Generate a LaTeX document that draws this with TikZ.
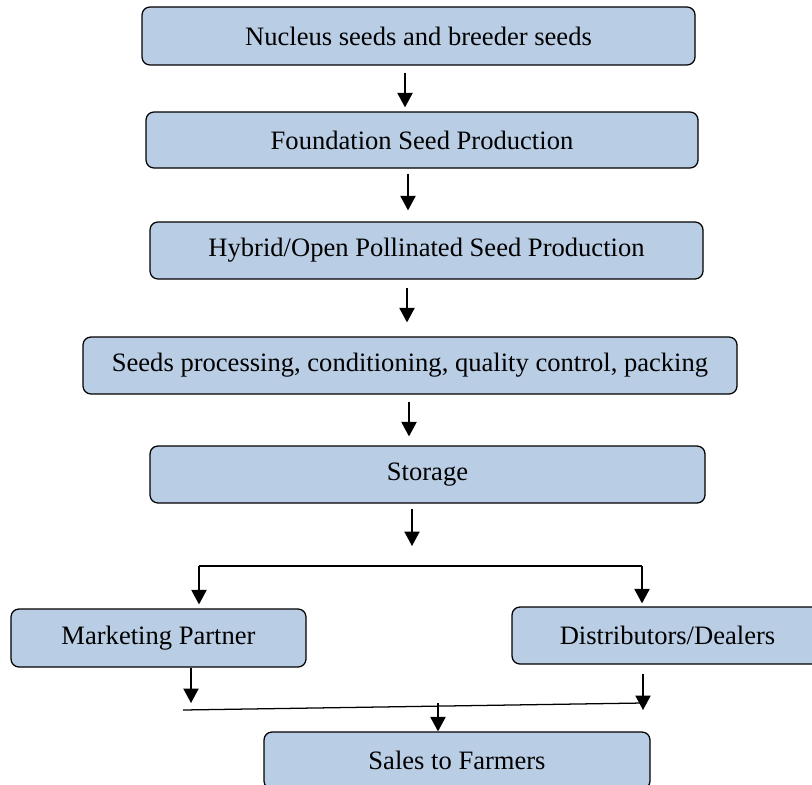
\documentclass[tikz,border=0pt]{standalone}
\usepackage{fontspec}
\setmainfont{Liberation Serif}
\usepackage{tikz}
\usetikzlibrary{arrows.meta}
\pgfdeclarelayer{bg}
\pgfsetlayers{bg,main}
\definecolor{stageblue}{RGB}{185,205,229}
\tikzset{
    stage/.style={rectangle, rounded corners=0.2cm, draw=black, line width=0.9pt, fill=stageblue, inner sep=0mm, font=\fontsize{18.9}{22}\selectfont}
}
\tikzset{flow/.style={line width=0.9pt, -{Triangle[length=0.36cm, width=0.38cm]}}}
\tikzset{linkline/.style={line width=0.9pt}}

\begin{document}
\begin{tikzpicture}
        \useasboundingbox (0cm, 0cm) rectangle (20.3cm, -19.6cm);
        \node (s1) [stage, minimum width=13.825cm, minimum height=1.45cm] at (10.462500cm, -0.900000cm) {Nucleus seeds and breeder seeds};
        \node (s2) [stage, minimum width=13.800cm, minimum height=1.40cm] at (10.550000cm, -3.500000cm) {Foundation Seed Production};
        \node (s3) [stage, minimum width=13.825cm, minimum height=1.425cm] at (10.662500cm, -6.262500cm) {Hybrid/Open Pollinated Seed Production};
        \node (s4) [stage, minimum width=16.350cm, minimum height=1.425cm] at (10.250000cm, -9.137500cm) {Seeds processing, conditioning, quality control, packing};
        \node (s5) [stage, minimum width=13.875cm, minimum height=1.425cm] at (10.687500cm, -11.862500cm) {Storage};
        \node (s6) [stage, minimum width=7.375cm, minimum height=1.45cm] at (3.962500cm, -15.950000cm) {Marketing Partner};
        \node (s7) [stage, minimum width=7.775cm, minimum height=1.425cm] at (16.687500cm, -15.887500cm) {Distributors/Dealers};
        \node (s8) [stage, minimum width=9.650cm, minimum height=1.425cm] at (11.425000cm, -19.012500cm) {Sales to Farmers};
        \coordinate (bl) at (4.975000cm, -14.150000cm);
        \coordinate (br) at (16.050000cm, -14.150000cm);
        \coordinate (jl) at (4.575000cm, -17.750000cm);
        \coordinate (jr) at (16.075000cm, -17.575000cm);
        \begin{pgfonlayer}{bg}
                \draw [flow, shorten <=0.175cm, shorten >=0.1cm] ([xshift=-0.3375cm]s1.south) -- ([xshift=-0.3375cm]s1.south |- s2.north);
                \draw [flow, shorten <=0.125cm, shorten >=0.275cm] ([xshift=-0.35cm]s2.south) -- ([xshift=-0.35cm]s2.south |- s3.north);
                \draw [flow, shorten <=0.2cm, shorten >=0.35cm] ([xshift=-0.4875cm]s3.south) -- ([xshift=-0.4875cm]s3.south |- s4.north);
                \draw [flow, shorten <=0.175cm, shorten >=0.225cm] ([xshift=-0.025cm]s4.south) -- ([xshift=-0.025cm]s4.south |- s5.north);
                \draw [flow, shorten <=0.125cm, shorten >=0.5cm] ([xshift=-0.3875cm]s5.south) -- ([xshift=-0.3875cm]s5.south |- bl);
                \draw [linkline] (bl) -- (br);
                \draw [flow, shorten >=0.1cm] (bl) -- (bl |- s6.north);
                \draw [flow, shorten >=0.075cm] (br) -- (br |- s7.north);
                \draw [flow, shorten >=0.175cm] ([xshift=0.8125cm]s6.south) -- ([xshift=0.8125cm]s6.south |- jl);
                \draw [flow, shorten <=0.225cm] (jr |- s7.south) -- (jr |- jl);
                \draw [linkline] (jl) -- (jr);
                \draw [flow] ([xshift=-0.475cm]s8.north |- jr) -- ([xshift=-0.475cm]s8.north);
        \end{pgfonlayer}
\end{tikzpicture}
\end{document}
